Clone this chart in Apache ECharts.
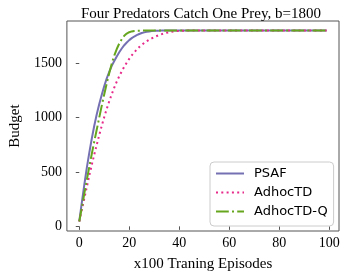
<!DOCTYPE html>
<html>
<head>
<meta charset="utf-8">
<script src="https://cdn.jsdelivr.net/npm/echarts@6/dist/echarts.min.js"></script>
<style>html,body{margin:0;padding:0;background:#fff;}#c{width:346px;height:277px;}</style>
</head>
<body>
<div id="c"></div>
<script>
const titleText = 'Four Predators Catch One Prey, b=1800';
const xName = 'x100 Traning Episodes';
const yName = 'Budget';
const seriesNames = ['PSAF', 'AdhocTD', 'AdhocTD-Q'];
const xTicks = [0, 20, 40, 60, 80, 100];
const yTicks = [0, 500, 1000, 1500];

// values at episodes 0..99 (x100)
const psaf = [45,215,380,535,675,805,925,1030,1125,1210,1290,1360,1420,1475,1520,1562,1600,1635,1665,1690,
  1712,1730,1745,1758,1768,1777,1783,1788,1792,1795,1797,1798,1799,1800,1800,1800,1800,1800,1800,1800,
  1800,1800,1800,1800,1800,1800,1800,1800,1800,1800,1800,1800,1800,1800,1800,1800,1800,1800,1800,1800,
  1800,1800,1800,1800,1800,1800,1800,1800,1800,1800,1800,1800,1800,1800,1800,1800,1800,1800,1800,1800,
  1800,1800,1800,1800,1800,1800,1800,1800,1800,1800,1800,1800,1800,1800,1800,1800,1800,1800,1800,1800];
const adhocTD = [45,150,255,360,465,565,660,750,840,925,1005,1080,1150,1215,1275,1330,1380,1425,1467,1505,
  1540,1572,1600,1625,1648,1668,1686,1702,1716,1728,1740,1750,1759,1767,1774,1780,1785,1789,1792,1795,
  1797,1798,1799,1800,1800,1800,1800,1800,1800,1800,1800,1800,1800,1800,1800,1800,1800,1800,1800,1800,
  1800,1800,1800,1800,1800,1800,1800,1800,1800,1800,1800,1800,1800,1800,1800,1800,1800,1800,1800,1800,
  1800,1800,1800,1800,1800,1800,1800,1800,1800,1800,1800,1800,1800,1800,1800,1800,1800,1800,1800,1800];
const adhocTDQ = [45,170,300,425,545,665,780,890,1000,1110,1215,1315,1410,1495,1570,1630,1680,1720,1752,1772,
  1785,1792,1796,1798,1799,1800,1800,1800,1800,1800,1800,1800,1800,1800,1800,1800,1800,1800,1800,1800,
  1800,1800,1800,1800,1800,1800,1800,1800,1800,1800,1800,1800,1800,1800,1800,1800,1800,1800,1800,1800,
  1800,1800,1800,1800,1800,1800,1800,1800,1800,1800,1800,1800,1800,1800,1800,1800,1800,1800,1800,1800,
  1800,1800,1800,1800,1800,1800,1800,1800,1800,1800,1800,1800,1800,1800,1800,1800,1800,1800,1800,1800];

const pairs = arr => arr.map((v, i) => [i, v]);
const serif = 'Liberation Serif';
const sans = 'DejaVu Sans';

const chart = echarts.init(document.getElementById('c'), null, {renderer: 'canvas'});
chart.setOption({
  animation: false,
  backgroundColor: '#fff',
  title: {
    text: titleText, left: 196, textAlign: 'center', top: 2,
    textStyle: {fontFamily: serif, fontSize: 15, fontWeight: 'normal', color: '#000'}
  },
  grid: {left: 53, right: 7, top: 21, bottom: 41, show: true, borderColor: '#555', borderWidth: 1, backgroundColor: 'transparent'},
  legend: {
    orient: 'vertical', left: 210, top: 162,
    padding: [5, 6, 8, 5], itemGap: 6, itemWidth: 28, itemHeight: 14,
    backgroundColor: '#fff', borderColor: '#ccc', borderWidth: 1, borderRadius: 4,
    itemStyle: {opacity: 0},
    textStyle: {fontFamily: sans, fontSize: 13, color: '#000', padding: [0, 0, 0, 5]},
    data: seriesNames
  },
  xAxis: {
    type: 'value', min: -4.95, max: 103.95,
    name: xName, nameLocation: 'middle', nameGap: 26,
    nameTextStyle: {fontFamily: serif, fontSize: 15, color: '#000'},
    axisLine: {show: false},
    axisTick: {show: true, inside: false, length: 3.5, lineStyle: {color: '#555'}, customValues: xTicks},
    axisLabel: {fontFamily: serif, fontSize: 14, color: '#000', margin: 5, customValues: xTicks},
    splitLine: {show: false}
  },
  yAxis: {
    type: 'value', min: -42.75, max: 1887.75,
    name: yName, nameLocation: 'middle', nameGap: 37, nameRotate: 90,
    nameTextStyle: {fontFamily: serif, fontSize: 15, color: '#000'},
    axisLine: {show: false},
    axisTick: {show: true, inside: false, length: 3.5, lineStyle: {color: '#555'}, customValues: yTicks},
    axisLabel: {fontFamily: serif, fontSize: 14, color: '#000', margin: 5, customValues: yTicks,
                formatter: v => String(v)},
    splitLine: {show: false}
  },
  series: [
    {name: seriesNames[0], type: 'line', data: pairs(psaf), showSymbol: false, symbol: 'none',
     lineStyle: {color: '#7570b3', width: 2}, itemStyle: {color: '#7570b3'}},
    {name: seriesNames[1], type: 'line', data: pairs(adhocTD), showSymbol: false, symbol: 'none',
     lineStyle: {color: '#e7298a', width: 2, type: [2, 3.3], cap: 'butt'}, itemStyle: {color: '#e7298a'}},
    {name: seriesNames[2], type: 'line', data: pairs(adhocTDQ), showSymbol: false, symbol: 'none',
     lineStyle: {color: '#66a61e', width: 2, type: [12.8, 3.2, 2, 3.2], cap: 'butt'}, itemStyle: {color: '#66a61e'}}
  ]
});
</script>
</body>
</html>
